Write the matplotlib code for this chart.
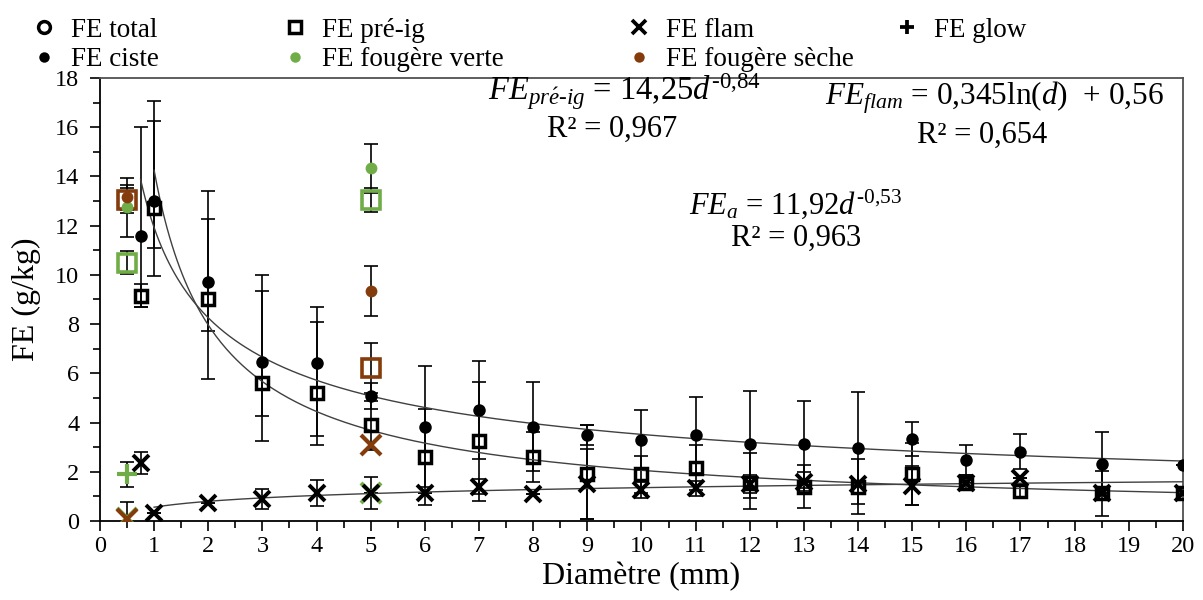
import matplotlib
matplotlib.use("Agg")
import matplotlib.pyplot as plt
import numpy as np
from matplotlib.lines import Line2D

plt.rcParams["font.family"] = ["Liberation Serif", "DejaVu Serif"]
plt.rcParams["mathtext.fontset"] = "custom"
plt.rcParams["mathtext.rm"] = "Liberation Serif"
plt.rcParams["mathtext.it"] = "Liberation Serif:italic"

GREEN = "#70ad47"
BROWN = "#843c0c"

# ---- data: ciste (black) ----
diam = [0.75, 1, 2, 3, 4, 5, 6, 7, 8, 9, 10, 11, 12, 13, 14, 15, 16, 17, 18.5, 20]
ciste_tot = [11.6, 13.0, 9.7, 6.48, 6.42, 5.09, 3.83, 4.52, 3.83, 3.49, 3.29, 3.49,
             3.12, 3.12, 2.96, 3.33, 2.48, 2.81, 2.33, 2.28]
ciste_tot_lo = [2.9, 3.06, 3.92, 3.22, 3.32, 0.52, 2.46, 2.0, 1.8, 0.39, 1.23, 1.55,
                2.18, 1.77, 2.28, 0.69, 0.62, 0.71, 1.28, 0]
ciste_tot_hi = [4.4, 4.07, 3.7, 3.52, 2.27, 0.52, 2.46, 2.0, 1.8, 0.39, 1.23, 1.55,
                2.18, 1.77, 2.28, 0.69, 0.62, 0.71, 1.28, 0]
ciste_pre = [9.16, 12.7, 9.04, 5.62, 5.2, 3.88, 2.6, 3.23, 2.6, 1.9, 1.9, 2.17,
             1.56, 1.4, 1.4, 1.9, 1.56, 1.22, 1.13, 1.15]
ciste_pre_lo = [0.46, 1.6, 1.33, 1.37, 1.74, 1.0, 1.95, 2.43, 1.0, 1.83, 0.75, 0.9,
                1.07, 0.86, 1.13, 1.26, 0.3, 0.3, 0.91, 0]
ciste_pre_hi = [0.46, 3.57, 3.22, 3.71, 2.88, 1.0, 1.95, 2.43, 1.0, 1.98, 0.75, 0.9,
                1.22, 0.86, 1.13, 1.26, 0.3, 0.3, 0.91, 0]
ciste_flam = [2.36, 0.32, 0.73, 0.9, 1.13, 1.15, 1.15, 1.4, 1.1, 1.5, 1.26, 1.33,
              1.5, 1.6, 1.5, 1.43, 1.56, 1.74, 1.13, 1.15]
ciste_flam_err = [0.45, 0, 0, 0.4, 0.54, 0.65, 0, 0.3, 0, 1.43, 0.34, 0.3,
                  0.37, 0.4, 0, 0.79, 0, 0, 0, 0]

# ---- data: fougère (green = verte, brown = sèche) ----
diam_foug = [0.5, 5]
verte_tot, verte_tot_err = [12.75, 14.33], [1.2, 1.0]
verte_pre, verte_pre_err = [10.5, 13.05], [0.47, 0.5]
verte_flam, verte_flam_err = [0.12, 1.15], [0.65, 0]
verte_glow_d, verte_glow, verte_glow_err = [0.5], [1.9], [0.5]
seche_tot, seche_tot_err = [13.15, 9.34], [0.5, 1.02]
seche_pre, seche_pre_err = [13.03, 6.22], [0.5, 1.0]
seche_flam = [0.08, 3.1]

# ---- fitted models (from the equations shown) ----
fit_a = (11.92, -0.53, 0.75)
fit_pre = (14.25, -0.84, 1.0)
fit_flam = (0.345, 0.56, 1.0)

fig = plt.figure(figsize=(12.03, 6), dpi=100)
ax = fig.add_axes([0.0831, 0.1317, 0.9002, 0.7383])

ebkw = dict(fmt="none", ecolor="black", elinewidth=1.2, capsize=5, capthick=1.2, zorder=2)
ax.errorbar(diam, ciste_tot, yerr=[ciste_tot_lo, ciste_tot_hi], **ebkw)
ax.errorbar(diam, ciste_pre, yerr=[ciste_pre_lo, ciste_pre_hi], **ebkw)
ax.errorbar(diam, ciste_flam, yerr=ciste_flam_err, **ebkw)
ax.errorbar(diam_foug, verte_tot, yerr=verte_tot_err, **ebkw)
ax.errorbar(diam_foug, verte_pre, yerr=verte_pre_err, **ebkw)
ax.errorbar(diam_foug, verte_flam, yerr=verte_flam_err, **ebkw)
ax.errorbar(verte_glow_d, verte_glow, yerr=verte_glow_err, **ebkw)
ax.errorbar(diam_foug, seche_tot, yerr=seche_tot_err, **ebkw)
ax.errorbar(diam_foug, seche_pre, yerr=seche_pre_err, **ebkw)

# fit curves
d = np.linspace(fit_a[2], 20, 400)
ax.plot(d, fit_a[0] * d ** fit_a[1], color="#404040", lw=1, zorder=3)
d = np.linspace(fit_pre[2], 20, 400)
ax.plot(d, fit_pre[0] * d ** fit_pre[1], color="#404040", lw=1, zorder=3)
d = np.linspace(fit_flam[2], 20, 400)
ax.plot(d, fit_flam[0] * np.log(d) + fit_flam[1], color="#404040", lw=1, zorder=3)

# fougère markers
ax.plot(diam_foug, verte_pre, "s", ms=13, mfc="none", mec=GREEN, mew=2.6, ls="none", zorder=4)
ax.plot(diam_foug, seche_pre, "s", ms=13, mfc="none", mec=BROWN, mew=2.6, ls="none", zorder=4)
ax.plot(diam_foug, verte_flam, "x", ms=15, mec=GREEN, mew=3, ls="none", zorder=4)
ax.plot(diam_foug, seche_flam, "x", ms=15, mec=BROWN, mew=3, ls="none", zorder=4)
ax.plot(verte_glow_d, verte_glow, "+", ms=15, mec=GREEN, mew=3, ls="none", zorder=4)
ax.plot(diam_foug, verte_tot, "o", ms=8.5, color=GREEN, mec="none", ls="none", zorder=5)
ax.plot(diam_foug, seche_tot, "o", ms=8.5, color=BROWN, mec="none", ls="none", zorder=5)

# ciste markers
ax.plot(diam, ciste_pre, "s", ms=8.5, mfc="none", mec="black", mew=2.5, ls="none", zorder=5)
ax.plot(diam, ciste_flam, "x", ms=11, mec="black", mew=2.8, ls="none", zorder=5)
ax.plot(diam, ciste_tot, "o", ms=9, color="black", mec="none", ls="none", zorder=6)

ax.set_xlim(0, 20)
ax.set_ylim(0, 18)
ax.set_xticks(np.arange(0, 21, 1))
ax.set_xticks(np.arange(0, 20.01, 0.5), minor=True)
ax.set_yticks(np.arange(0, 19, 2))
ax.set_yticks(np.arange(0, 19, 1), minor=True)
ax.tick_params(axis="both", which="major", direction="out", length=7, width=1.2,
               labelsize=17.5, top=False, right=False)
ax.tick_params(axis="y", which="major", pad=8)
ax.tick_params(axis="both", which="minor", direction="out", length=5, width=1.2,
               top=False, right=False)
for s in ["left", "bottom"]:
    ax.spines[s].set_color("black")
    ax.spines[s].set_linewidth(1.3)
for s in ["top", "right"]:
    ax.spines[s].set_color("#505050")
    ax.spines[s].set_linewidth(1.3)

ax.set_xlabel("Diamètre (mm)", fontsize=23, labelpad=4)
ax.set_ylabel("FE (g/kg)", fontsize=23, labelpad=10)

# equations
def ftext(px, py, s, size=22):
    fig.text(px / 1203, 1 - py / 600, s, fontsize=size, ha="center", va="center")

ftext(624, 92, r"$FE_{pr\acute{e}\text{-}ig}$ = 14,25$d^{\text{-0,84}}$", size=23.5)
ftext(612, 129, "R² = 0,967")
ftext(995, 98, r"$FE_{flam}$ = 0,345ln($d$)  + 0,56", size=22.5)
ftext(982, 135, "R² = 0,654")
ftext(796, 204, r"$FE_a$ = 11,92$d^{\text{-0,53}}$")
ftext(796, 238, "R² = 0,963")

# legend
h_tot = Line2D([], [], marker="o", ls="none", ms=8.5, mfc="none", mec="black", mew=2.5)
h_pre = Line2D([], [], marker="s", ls="none", ms=8, mfc="none", mec="black", mew=2.5)
h_flam = Line2D([], [], marker="x", ls="none", ms=9.5, mec="black", mew=2.7)
h_glow = Line2D([], [], marker="+", ls="none", ms=10.5, mec="black", mew=2.7)
h_ciste = Line2D([], [], marker="o", ls="none", ms=7.5, color="black", mec="none")
h_verte = Line2D([], [], marker="o", ls="none", ms=7.5, color=GREEN, mec="none")
h_seche = Line2D([], [], marker="o", ls="none", ms=7.5, color=BROWN, mec="none")

legkw = dict(frameon=False, fontsize=19.5, handlelength=0.8, handletextpad=0.6,
             borderpad=0, labelspacing=0.18, loc="upper left")
fig.legend([h_tot, h_ciste, h_pre, h_verte, h_flam, h_seche],
           ["FE total", "FE ciste", "FE pré-ig", "FE fougère verte", "FE flam",
            "FE fougère sèche"],
           ncol=3, columnspacing=4.6, bbox_to_anchor=(20 / 1203, 1 - 4 / 600), **legkw)
fig.legend([h_glow], ["FE glow"], bbox_to_anchor=(883 / 1203, 1 - 4 / 600), **legkw)

fig.savefig("out.png", dpi=100)
